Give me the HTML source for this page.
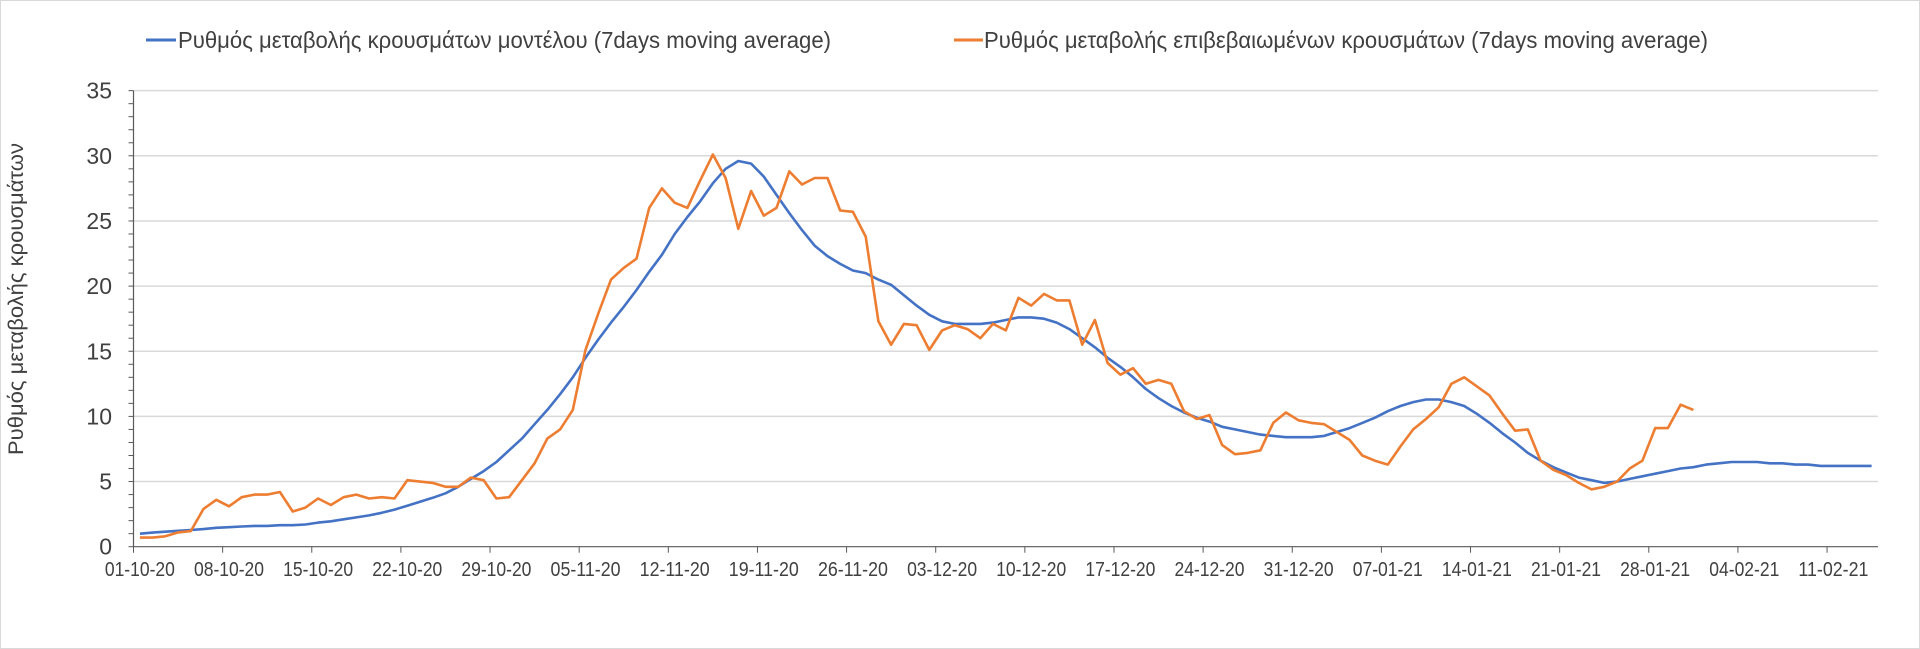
<!DOCTYPE html>
<html><head><meta charset="utf-8"><style>
html,body{margin:0;padding:0;background:#fff}
svg{display:block}
text{font-family:"Liberation Sans",sans-serif;fill:#404040}
</style></head><body>
<svg id="chart" width="1920" height="649" viewBox="0 0 1920 649" xmlns="http://www.w3.org/2000/svg">
<rect x="0.5" y="0.5" width="1919" height="648" fill="#fff" stroke="#d9d9d9"/>
<g id="grid"></g>
<g id="axes"></g>
<g id="series"></g>
<g>
<g>
<line x1="146" y1="40" x2="176" y2="40" stroke="#4472C4" stroke-width="3"/>
<text x="178" y="48" font-size="23" textLength="653" lengthAdjust="spacingAndGlyphs">Ρυθμός μεταβολής κρουσμάτων μοντέλου (7days moving average)</text>
</g>
<g>
<line x1="954" y1="40" x2="983" y2="40" stroke="#ED7D31" stroke-width="3"/>
<text x="984" y="48" font-size="23" textLength="724" lengthAdjust="spacingAndGlyphs">Ρυθμός μεταβολής επιβεβαιωμένων κρουσμάτων (7days moving average)</text>
</g>
</g>
<text transform="translate(23,299) rotate(-90)" text-anchor="middle" font-size="21" textLength="312" lengthAdjust="spacingAndGlyphs">Ρυθμός μεταβολής κρουσμάτων</text>
</svg>
<script>
const xTickLabels = ["01-10-20","08-10-20","15-10-20","22-10-20","29-10-20","05-11-20","12-11-20","19-11-20","26-11-20","03-12-20","10-12-20","17-12-20","24-12-20","31-12-20","07-01-21","14-01-21","21-01-21","28-01-21","04-02-21","11-02-21"];
const yTicks = [0,5,10,15,20,25,30,35];
const modelValues = [1.0,1.08,1.15,1.22,1.28,1.35,1.45,1.5,1.55,1.6,1.6,1.65,1.65,1.7,1.85,1.95,2.1,2.25,2.4,2.6,2.85,3.15,3.45,3.75,4.1,4.6,5.2,5.8,6.5,7.4,8.3,9.4,10.5,11.7,13.0,14.5,15.9,17.2,18.4,19.7,21.1,22.4,24.0,25.3,26.5,27.9,29.0,29.6,29.4,28.4,27.0,25.6,24.3,23.1,22.3,21.7,21.2,21.0,20.5,20.1,19.3,18.5,17.8,17.3,17.1,17.1,17.1,17.2,17.4,17.6,17.6,17.5,17.2,16.7,16.0,15.3,14.5,13.8,13.0,12.1,11.4,10.8,10.3,9.9,9.6,9.2,9.0,8.8,8.6,8.5,8.4,8.4,8.4,8.5,8.8,9.1,9.5,9.9,10.4,10.8,11.1,11.3,11.3,11.1,10.8,10.2,9.5,8.7,8.0,7.2,6.6,6.1,5.7,5.3,5.1,4.9,5.0,5.2,5.4,5.6,5.8,6.0,6.1,6.3,6.4,6.5,6.5,6.5,6.4,6.4,6.3,6.3,6.2,6.2,6.2,6.2,6.2];
const confirmedValues = [0.7,0.7,0.8,1.1,1.2,2.9,3.6,3.1,3.8,4.0,4.0,4.2,2.7,3.0,3.7,3.2,3.8,4.0,3.7,3.8,3.7,5.1,5.0,4.9,4.6,4.6,5.3,5.1,3.7,3.8,5.1,6.4,8.3,9.0,10.5,15.1,17.9,20.5,21.4,22.1,26.0,27.5,26.4,26.0,28.1,30.1,28.3,24.4,27.3,25.4,26.0,28.8,27.8,28.3,28.3,25.8,25.7,23.8,17.3,15.5,17.1,17.0,15.1,16.6,17.0,16.7,16.0,17.1,16.6,19.1,18.5,19.4,18.9,18.9,15.5,17.4,14.1,13.2,13.7,12.5,12.8,12.5,10.4,9.8,10.1,7.8,7.1,7.2,7.4,9.5,10.3,9.7,9.5,9.4,8.8,8.2,7.0,6.6,6.3,7.7,9.0,9.8,10.7,12.5,13.0,12.3,11.6,10.2,8.9,9.0,6.6,5.9,5.5,4.9,4.4,4.6,5.0,6.0,6.6,9.1,9.1,10.9,10.5];

const NS="http://www.w3.org/2000/svg";
const L=133.5,R=1878,Y0=546.7,PX=13.03,N=137,CW=(R-L)/N;
const xc=d=>L+(d+0.5)*CW;
const yv=v=>Y0-v*PX;
function mk(tag,attrs,parent){const e=document.createElementNS(NS,tag);for(const k in attrs)e.setAttribute(k,attrs[k]);parent.appendChild(e);return e;}
const grid=document.getElementById('grid'),axes=document.getElementById('axes'),ser=document.getElementById('series');
yTicks.forEach(v=>{
  if(v>0){const g=mk('line',{x1:L,x2:R,y1:yv(v),y2:yv(v),stroke:'#d9d9d9','stroke-width':1.5},grid);
  
  }
  const t=mk('text',{x:112,y:yv(v)+8,'text-anchor':'end','font-size':23},axes);
  t.textContent=v;
  
  
});
for(let v=0;v<=35;v++){mk('line',{x1:L-5,x2:L,y1:yv(v),y2:yv(v),stroke:'#595959','stroke-width':1},axes);}
mk('line',{x1:L,x2:L,y1:yv(35),y2:Y0,stroke:'#595959','stroke-width':1.2},axes);
mk('line',{x1:L,x2:R,y1:Y0,y2:Y0,stroke:'#595959','stroke-width':1.2},axes);
xTickLabels.forEach((lab,i)=>{
  const tx=L+i*7*CW;
  mk('line',{x1:tx,x2:tx,y1:Y0,y2:Y0+6,stroke:'#595959','stroke-width':1},axes);
  const t=mk('text',{x:xc(i*7),y:576,'text-anchor':'middle','font-size':20,textLength:70,lengthAdjust:'spacingAndGlyphs'},axes);
  t.textContent=lab;
  
  
});
function line(vals,color,name){
  const p=mk('polyline',{points:vals.map((v,i)=>xc(i).toFixed(1)+','+yv(v).toFixed(1)).join(' '),fill:'none',stroke:color,'stroke-width':2.6,'stroke-linejoin':'round'},ser);
  
  
}
line(modelValues,'#4472C4','model-series-line');
line(confirmedValues,'#ED7D31','confirmed-series-line');
</script>
</body></html>
